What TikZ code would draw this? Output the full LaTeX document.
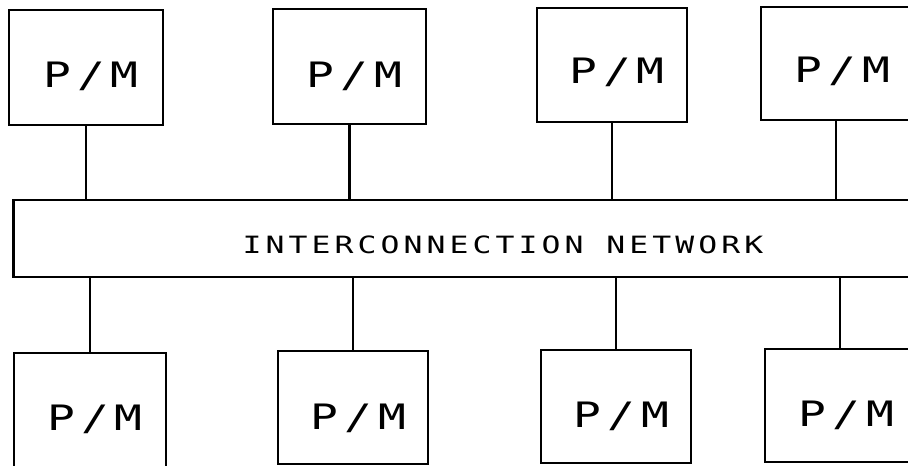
\documentclass[tikz,border=0pt]{standalone}
\usepackage{fontspec}
% monoline lettering, widened and spaced like plotter text
\newfontfamily\plotfont[LetterSpace=13]{DejaVu Sans Mono}
\newcommand\plotword[2]{\scalebox{1.32}[1]{\fontsize{#1}{#1}\plotfont #2}}
\tikzset{
  wire/.style={line width=2.7pt},
  pmbox/.style={draw, line width=2.7pt, inner sep=0pt, minimum width=152pt, minimum height=114pt},
  netbar/.style={draw, line width=2.7pt, inner sep=0pt, anchor=north west},
  pmtext/.style={anchor=base, inner sep=0pt},
}
\begin{document}
\begin{tikzpicture}[x=1pt,y=-1pt]
\useasboundingbox (0,0) rectangle (908,466);
\clip (0,0) rectangle (908,466);

% interconnection network
\node[netbar, minimum width=960pt, minimum height=77pt] (net) at (12,198.5) {};
\node[pmtext] (netlabel) at (503,253) {\plotword{23.8}{INTERCONNECTION NETWORK}};

% upper processor/memory units
\node[pmbox, minimum width=154pt, minimum height=115pt] (t1) at (86,67.5) {};
\node[pmbox, minimum width=153pt, minimum height=115pt] (t2) at (349.5,66.5) {};
\node[pmbox, minimum width=150pt, minimum height=114pt] (t3) at (612,65) {};
\node[pmbox, minimum width=150pt, minimum height=113pt] (t4) at (836,63.5) {};

% lower processor/memory units
\node[pmbox, minimum width=152pt, minimum height=114pt] (b1) at (90,410) {};
\node[pmbox, minimum width=150pt, minimum height=113pt] (b2) at (353,407.5) {};
\node[pmbox, minimum width=150pt, minimum height=113pt] (b3) at (616,406.5) {};
\node[pmbox, minimum width=150pt, minimum height=113pt] (b4) at (840,405.5) {};

% unit labels
\node[pmtext] (t1l) at (91,87) {\plotword{35}{P/M}};
\node[pmtext] (t2l) at (354.5,87) {\plotword{35}{P/M}};
\node[pmtext] (t3l) at (617,83) {\plotword{35}{P/M}};
\node[pmtext] (t4l) at (842.5,82) {\plotword{35}{P/M}};
\node[pmtext] (b1l) at (95,430) {\plotword{35}{P/M}};
\node[pmtext] (b2l) at (358.5,429) {\plotword{35}{P/M}};
\node[pmtext] (b3l) at (621.5,427) {\plotword{35}{P/M}};
\node[pmtext] (b4l) at (846.5,426) {\plotword{35}{P/M}};

% links to the network
\foreach \u in {t1,t2,t3,t4}
  \draw[wire] (\u.south) -- (\u.south |- net.north);
\foreach \u in {b1,b2,b3,b4}
  \draw[wire] (\u.north) -- (\u.north |- net.south);
\end{tikzpicture}
\end{document}
